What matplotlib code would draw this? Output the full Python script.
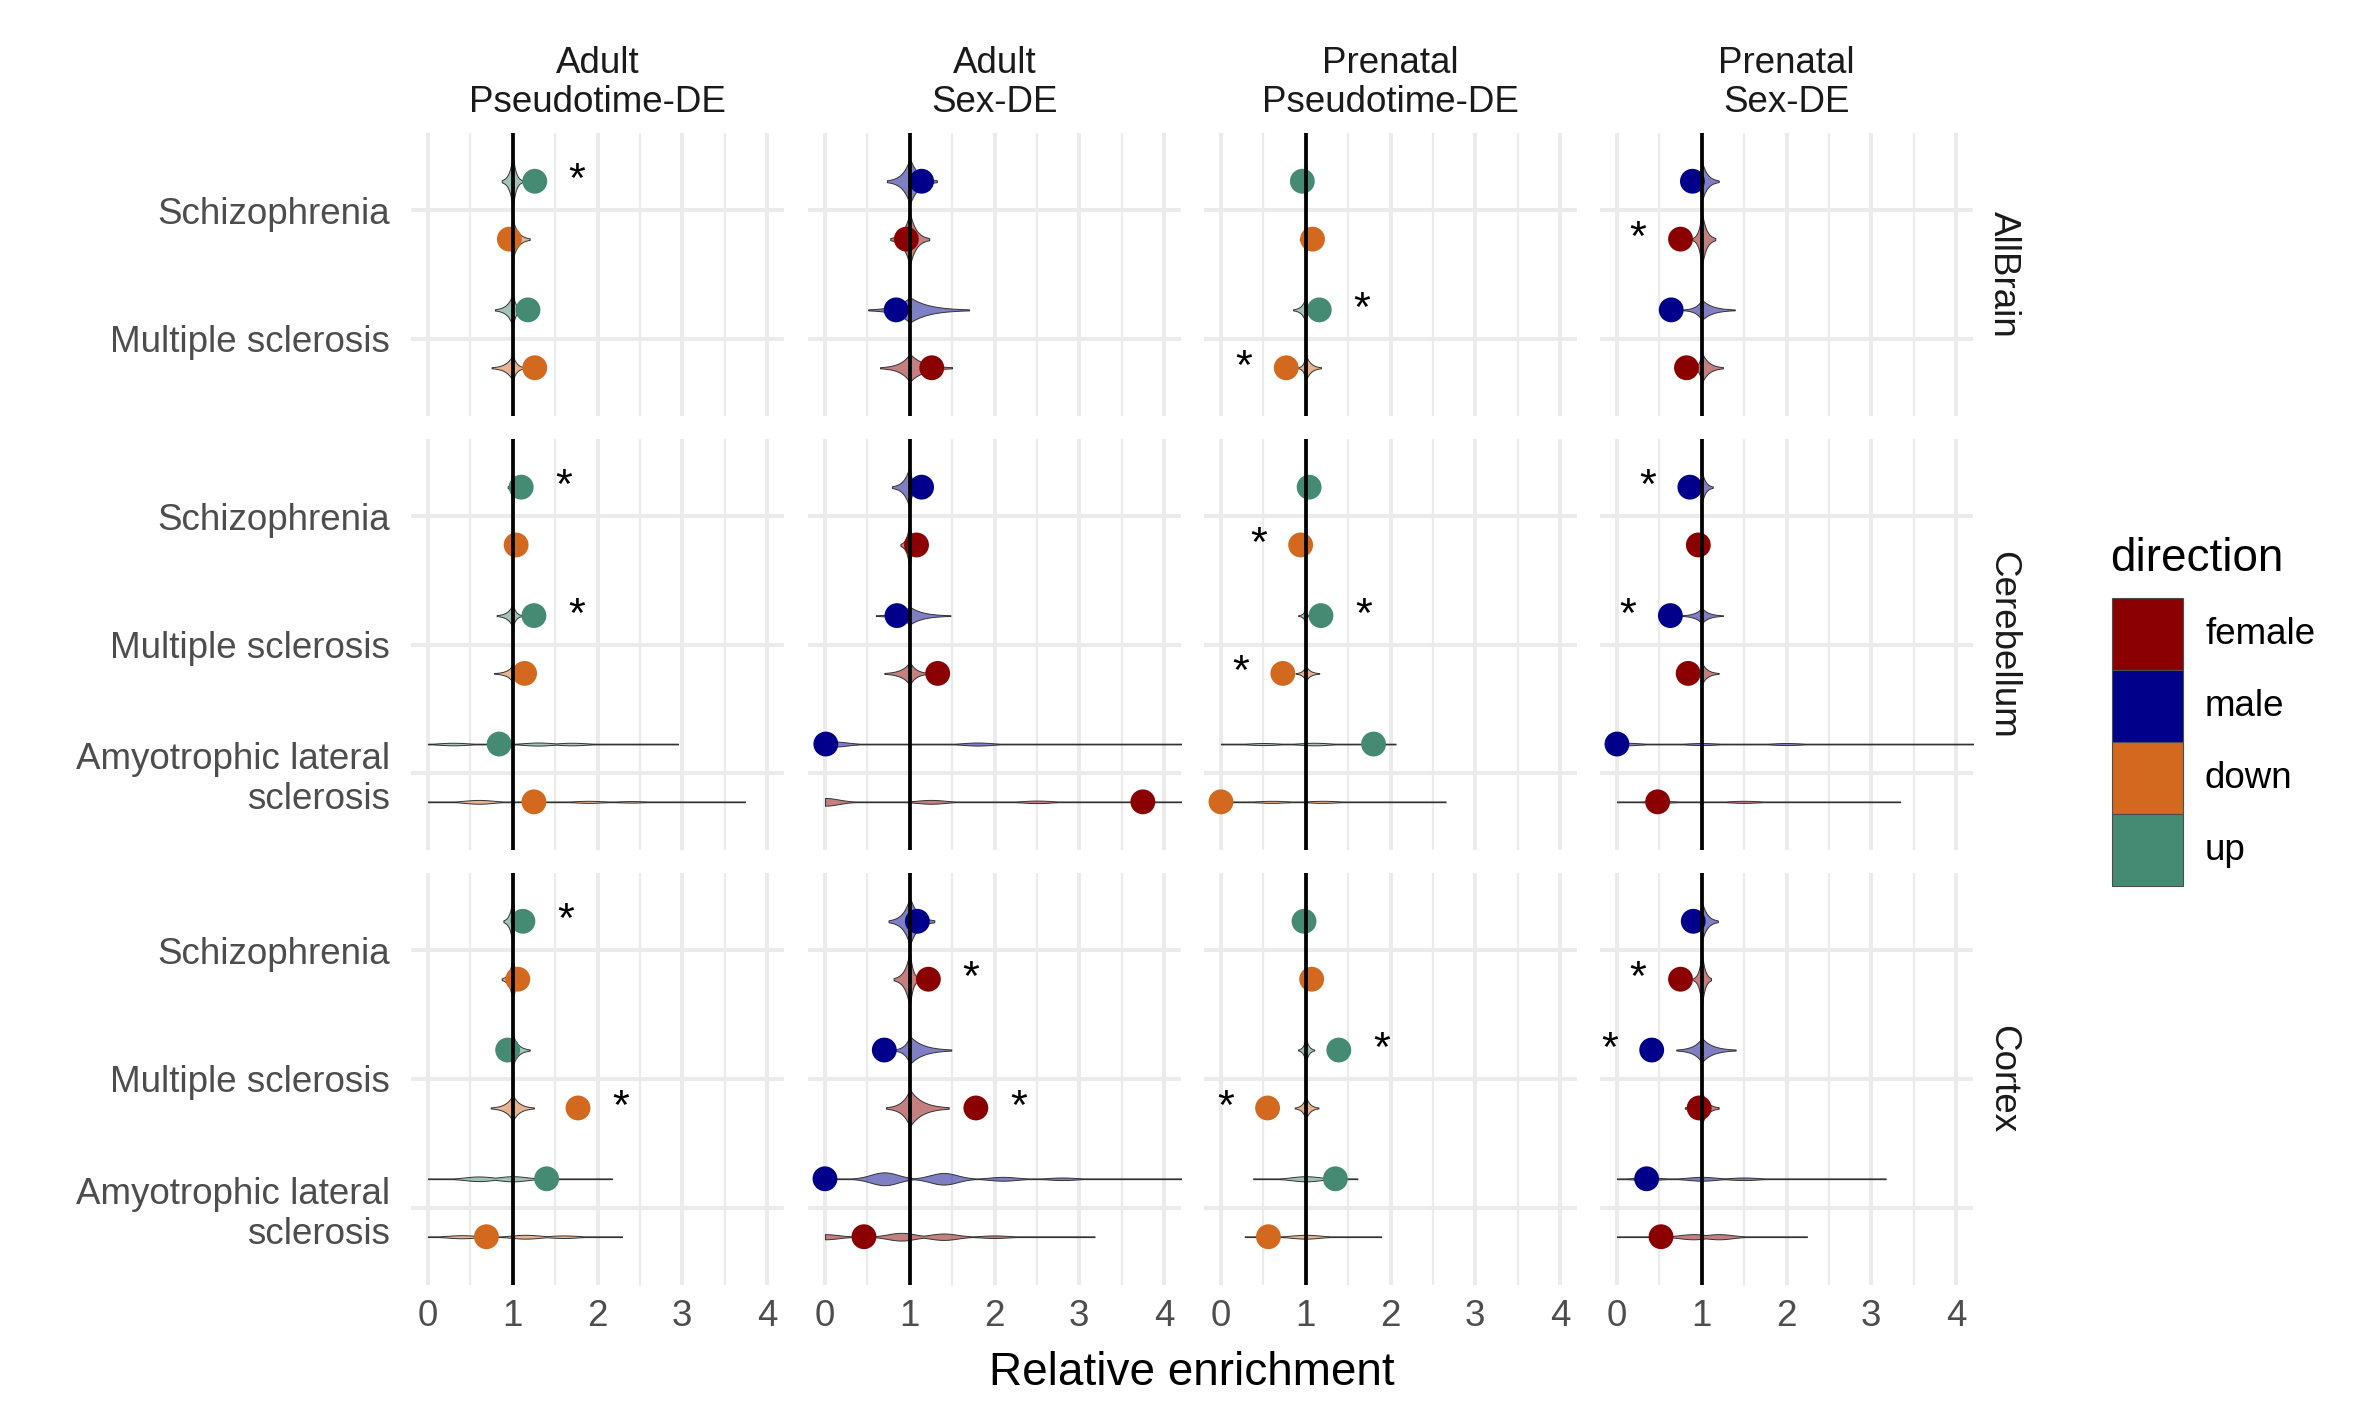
import matplotlib
matplotlib.use("Agg")
import matplotlib.pyplot as plt
import numpy as np
from matplotlib.colors import to_rgba
from matplotlib.patches import Rectangle

W, H = 2362, 1417
DPI = 100

plt.rcParams["font.family"] = ["Liberation Sans", "DejaVu Sans"]

studies = ["Adult\nPseudotime-DE", "Adult\nSex-DE", "Prenatal\nPseudotime-DE", "Prenatal\nSex-DE"]
regions = ["AllBrain", "Cerebellum", "Cortex"]
diseases_allbrain = ["Schizophrenia", "Multiple sclerosis"]
diseases_other = ["Schizophrenia", "Multiple sclerosis", "Amyotrophic lateral\nsclerosis"]

# upper / lower group of each study column
study_groups = [("up", "down"), ("male", "female"), ("up", "down"), ("male", "female")]
direction_colors = {"female": "#8B0000", "male": "#00008B", "down": "#D2691E", "up": "#458B74"}
legend_order = ["female", "male", "down", "up"]

# observed enrichment, per study: [SZ upper, SZ lower, MS upper, MS lower, (ALS upper, ALS lower)]
allbrain_enrich = [
    [1.26, 0.96, 1.18, 1.26],
    [1.14, 0.96, 0.84, 1.26],
    [0.96, 1.08, 1.16, 0.77],
    [0.89, 0.75, 0.64, 0.82],
]
cerebellum_enrich = [
    [1.10, 1.04, 1.25, 1.14, 0.84, 1.25],
    [1.14, 1.08, 0.85, 1.33, 0.01, 3.75],
    [1.04, 0.94, 1.18, 0.73, 1.80, 0.00],
    [0.86, 0.96, 0.63, 0.84, 0.00, 0.48],
]
cortex_enrich = [
    [1.12, 1.06, 0.94, 1.77, 1.40, 0.69],
    [1.09, 1.22, 0.70, 1.78, 0.00, 0.46],
    [0.98, 1.07, 1.39, 0.55, 1.35, 0.56],
    [0.90, 0.75, 0.41, 0.97, 0.35, 0.52],
]

# significance star: 1 = right of point, -1 = left of point, 0 = none
allbrain_star = [
    [1, 0, 0, 0],
    [0, 0, 0, 0],
    [0, 0, 1, -1],
    [0, -1, 0, 0],
]
cerebellum_star = [
    [1, 0, 1, 0, 0, 0],
    [0, 0, 0, 0, 0, 0],
    [0, -1, 1, -1, 0, 0],
    [-1, 0, -1, 0, 0, 0],
]
cortex_star = [
    [1, 0, 0, 1, 0, 0],
    [0, 1, 0, 1, 0, 0],
    [0, 0, 1, -1, 0, 0],
    [0, -1, -1, 0, 0, 0],
]

# null distributions (violins): range and peak half-height
allbrain_vlo = [
    [0.87, 0.93, 0.79, 0.75],
    [0.73, 0.77, 0.51, 0.65],
    [0.93, 0.93, 0.85, 0.91],
    [0.93, 0.89, 0.78, 0.90],
]
allbrain_vhi = [
    [1.11, 1.20, 1.11, 1.14],
    [1.32, 1.23, 1.70, 1.50],
    [1.05, 1.08, 1.04, 1.18],
    [1.20, 1.16, 1.39, 1.25],
]
allbrain_vh = [
    [0.21, 0.15, 0.125, 0.10],
    [0.18, 0.21, 0.10, 0.11],
    [0.20, 0.15, 0.10, 0.10],
    [0.16, 0.22, 0.08, 0.12],
]
cerebellum_vlo = [
    [0.94, 0.95, 0.81, 0.78, 0.0, 0.0],
    [0.79, 0.89, 0.60, 0.70, 0.0, 0.0],
    [0.95, 0.95, 0.91, 0.88, 0.0, 0.0],
    [0.96, 0.95, 0.75, 0.96, 0.0, 0.0],
]
cerebellum_vhi = [
    [1.05, 1.05, 1.11, 1.02, 2.95, 3.74],
    [1.08, 1.05, 1.48, 1.23, 4.40, 4.40],
    [1.05, 1.05, 1.03, 1.16, 2.06, 2.65],
    [1.13, 1.05, 1.25, 1.20, 4.40, 3.34],
]
cerebellum_vh = [
    [0.16, 0.14, 0.09, 0.065, 0, 0],
    [0.17, 0.20, 0.07, 0.09, 0, 0],
    [0.15, 0.12, 0.06, 0.06, 0, 0],
    [0.13, 0.10, 0.06, 0.085, 0, 0],
]
cortex_vlo = [
    [0.89, 0.87, 0.93, 0.74, 0.0, 0.0],
    [0.75, 0.81, 0.81, 0.72, 0.0, 0.0],
    [0.95, 0.95, 0.91, 0.87, 0.38, 0.28],
    [0.96, 0.90, 0.70, 0.80, 0.0, 0.0],
]
cortex_vhi = [
    [1.05, 1.11, 1.20, 1.25, 2.17, 2.29],
    [1.29, 1.11, 1.49, 1.46, 4.40, 3.18],
    [1.05, 1.05, 1.10, 1.15, 1.61, 1.89],
    [1.19, 1.11, 1.40, 1.20, 3.17, 2.24],
]
cortex_vh = [
    [0.19, 0.17, 0.12, 0.10, 0, 0],
    [0.19, 0.22, 0.11, 0.145, 0, 0],
    [0.15, 0.12, 0.10, 0.09, 0, 0],
    [0.16, 0.22, 0.095, 0.13, 0, 0],
]

# ALS violins are long and thin with a few small bumps: (centre, half-height)
cerebellum_als_bumps = [
    [[(0.3, 0.010), (1.3, 0.012), (1.7, 0.010)], [(0.6, 0.015), (1.9, 0.008), (2.4, 0.006)]],
    [[(0.1, 0.020), (1.8, 0.012)], [(0.0, 0.030), (1.25, 0.015), (2.5, 0.010)]],
    [[(0.5, 0.008), (1.1, 0.010)], [(0.6, 0.008), (1.2, 0.008)]],
    [[(0.1, 0.010), (1.0, 0.008), (2.0, 0.008)], [(0.5, 0.008), (1.5, 0.008)]],
]
cortex_als_bumps = [
    [[(0.6, 0.018), (1.0, 0.020)], [(0.4, 0.012), (1.15, 0.015), (1.6, 0.010)]],
    [[(0.7, 0.050), (1.4, 0.045), (2.1, 0.015), (2.8, 0.010)], [(0.0, 0.020), (0.9, 0.030), (1.4, 0.025), (2.0, 0.010)]],
    [[(1.0, 0.020)], [(1.0, 0.015)]],
    [[(0.35, 0.010), (1.0, 0.015), (1.5, 0.010)], [(0.9, 0.020), (1.2, 0.020)]],
]

enrich = [allbrain_enrich, cerebellum_enrich, cortex_enrich]
stars = [allbrain_star, cerebellum_star, cortex_star]
vlo = [allbrain_vlo, cerebellum_vlo, cortex_vlo]
vhi = [allbrain_vhi, cerebellum_vhi, cortex_vhi]
vh = [allbrain_vh, cerebellum_vh, cortex_vh]
als_bumps = [None, cerebellum_als_bumps, cortex_als_bumps]
diseases = [diseases_allbrain, diseases_other, diseases_other]

# layout in pixels
col_left = [411, 808, 1204, 1600]
col_width = 373
row_top = [133, 439, 873]
row_height = [283, 411, 412]
dodge = 0.225
text_size = 26.5


def px_axes(fig, left, top, width, height):
    
    return fig.add_axes([left / W, 1 - (top + height) / H, width / W, height / H])


def violin_width(x, lo, hi, h, bumps):
    
    if bumps is not None:
        
        w = np.full_like(x, 0.003)
        
        for c, bh in bumps:
            
            w = np.maximum(w, bh * np.exp(-0.5 * ((x - c) / 0.16) ** 2))
        
        return w
    
    s_left = (1 - lo) / 3.2
    s_right = (hi - 1) / 3.2
    scale = np.where(x < 1, s_left, s_right)
    
    return h * np.exp(-np.abs(x - 1) / scale)


fig = plt.figure(figsize=(W / DPI, H / DPI), dpi=DPI)
fig.patch.set_facecolor("white")

for r, region in enumerate(regions):
    
    n = len(diseases[r])
    
    for c, study in enumerate(studies):
        
        ax = px_axes(fig, col_left[c], row_top[r], col_width, row_height[r])
        ax.set_xlim(-0.2, 4.2)
        ax.set_ylim(n - 0.4, -0.6)
        
        for spine in ax.spines.values():
            
            spine.set_visible(False)
        
        ax.set_xticks([0, 1, 2, 3, 4])
        ax.set_xticks([0.5, 1.5, 2.5, 3.5], minor=True)
        ax.set_yticks(range(n))
        ax.grid(which="major", color="#EBEBEB", linewidth=2.9)
        ax.grid(which="minor", axis="x", color="#EBEBEB", linewidth=1.6)
        ax.set_axisbelow(True)
        ax.tick_params(which="both", length=0)
        
        if c == 0:
            
            ax.set_yticklabels(diseases[r], fontsize=text_size, color="#4D4D4D")
            ax.tick_params(axis="y", pad=15)
        
        else:
            
            ax.tick_params(axis="y", labelleft=False)
        
        if r == len(regions) - 1:
            
            ax.set_xticklabels(["0", "1", "2", "3", "4"], fontsize=text_size, color="#4D4D4D")
            ax.tick_params(axis="x", pad=10)
        
        else:
            
            ax.tick_params(axis="x", labelbottom=False)
        
        values = enrich[r][c]
        
        for i, value in enumerate(values):
            
            d = i // 2
            group = study_groups[c][i % 2]
            y = d - dodge if i % 2 == 0 else d + dodge
            color = direction_colors[group]
            
            bumps = None
            
            if d == 2:
                
                bumps = als_bumps[r][c][i % 2]
            
            xs = np.linspace(vlo[r][c][i], vhi[r][c][i], 400)
            ws = violin_width(xs, vlo[r][c][i], vhi[r][c][i], vh[r][c][i], bumps)
            ax.fill_between(xs, y - ws, y + ws, facecolor=to_rgba(color, 0.5),
                            edgecolor="#333333", linewidth=0.7, zorder=2)
            
            ax.scatter([value], [y], s=320, color=color, edgecolors="none", zorder=3)
            
            sign = stars[r][c][i]
            
            if sign != 0:
                
                ax.text(value + 0.5 * sign, y, "*", fontsize=31, ha="center", va="center",
                        color="black", zorder=5)
        
        ax.axvline(1, color="black", linewidth=2.7, zorder=4)

# column strips
for c, study in enumerate(studies):
    
    fig.text((col_left[c] + col_width / 2) / W, 1 - 83 / H, study, fontsize=text_size,
             color="#1A1A1A", ha="center", va="center", linespacing=1.15)

# row strips
for r, region in enumerate(regions):
    
    fig.text(2003 / W, 1 - (row_top[r] + row_height[r] / 2) / H, region, fontsize=text_size,
             color="#1A1A1A", ha="center", va="center", rotation=-90)

fig.text(1192 / W, 1 - 1385 / H, "Relative enrichment", fontsize=33, color="black",
         ha="center", va="baseline")

# legend
fig.text(2110 / W, 1 - 571 / H, "direction", fontsize=33, color="black", ha="left", va="baseline")

for k, name in enumerate(legend_order):
    
    top = 598 + 72 * k
    fig.patches.append(Rectangle((2112 / W, 1 - (top + 72) / H), 71 / W, 72 / H,
                                 transform=fig.transFigure, facecolor=direction_colors[name],
                                 edgecolor="#4D4D4D", linewidth=0.8))
    fig.text(2205 / W, 1 - (top + 36) / H, name, fontsize=text_size, color="black",
             ha="left", va="center")

fig.savefig("out.png", dpi=DPI)
plt.close(fig)
